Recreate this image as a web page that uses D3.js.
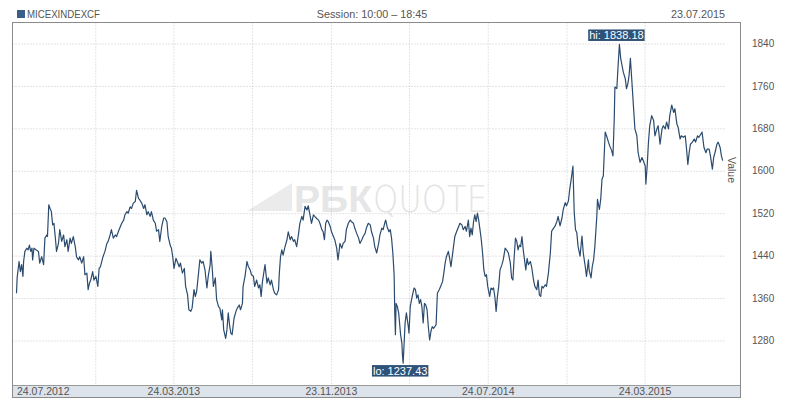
<!DOCTYPE html>
<html><head><meta charset="utf-8">
<script src="https://cdn.jsdelivr.net/npm/d3@7"></script>
<style>body{margin:0;background:#fff}svg{display:block;font-family:Arial,"Liberation Sans",sans-serif}</style>
</head><body><svg id="c" width="800" height="401"></svg>
<script>
const title = "MICEXINDEXCF";
const session = "Session: 10:00 – 18:45";
const asOf = "23.07.2015";
const axisTitle = "Value";
const startDate = "24.07.2012";
const endDate = "23.07.2015";
const yTicks = [1280, 1360, 1440, 1520, 1600, 1680, 1760, 1840];
const gridDates = ["23.11.2012","24.03.2013","24.07.2013","23.11.2013","24.03.2014","24.07.2014","23.11.2014","24.03.2015"];
const labelDates = ["24.07.2012","24.03.2013","23.11.2013","24.07.2014","24.03.2015"];
// [days since 24.07.2012, close]
const closes = [
[0,1369],[1,1398],[3,1419],[4,1429],[6,1410],[8,1423],[10,1401],[11,1429],[13,1448],[16,1454],[18,1451],[20,1460],[22,1448],[24,1454],[25,1432],[27,1454],[30,1451],[34,1448],[36,1426],[39,1438],[42,1423],[44,1473],[47,1479],[48,1476],[50,1536],[52,1529],[54,1523],[56,1498],[58,1501],[60,1476],[62,1448],[65,1463],[67,1489],[70,1467],[73,1479],[75,1457],[78,1470],[80,1448],[83,1473],[85,1463],[88,1476],[91,1457],[93,1438],[96,1432],[98,1438],[101,1426],[104,1438],[106,1404],[109,1407],[111,1376],[113,1388],[115,1394],[118,1410],[120,1394],[123,1401],[126,1382],[128,1416],[130,1419],[134,1438],[137,1448],[140,1463],[142,1467],[145,1479],[147,1489],[150,1473],[153,1479],[155,1476],[158,1486],[160,1492],[163,1501],[166,1507],[168,1517],[171,1523],[173,1520],[176,1532],[178,1529],[181,1539],[184,1542],[186,1563],[189,1548],[191,1545],[194,1539],[197,1529],[199,1536],[202,1517],[204,1523],[207,1514],[209,1523],[212,1507],[215,1501],[217,1486],[220,1489],[222,1467],[225,1495],[228,1511],[230,1511],[233,1504],[235,1476],[238,1460],[240,1454],[242,1438],[244,1416],[247,1435],[249,1429],[252,1419],[254,1426],[257,1407],[260,1416],[262,1382],[265,1366],[267,1338],[270,1335],[272,1341],[275,1376],[277,1363],[279,1372],[282,1407],
[284,1432],[287,1426],[289,1429],[292,1413],[295,1379],[297,1401],[300,1423],[301,1448],[303,1420],[305,1382],[308,1398],[310,1357],[313,1344],[315,1341],[318,1319],[319,1338],[321,1300],[324,1284],[326,1300],[328,1332],[330,1310],[332,1294],[334,1291],[337,1322],[340,1335],[342,1341],[345,1347],[347,1338],[350,1350],[351,1382],[354,1401],[357,1429],[359,1420],[362,1413],[364,1404],[367,1401],[369,1382],[372,1394],[375,1379],[377,1385],[379,1363],[381,1391],[383,1407],[385,1423],[388,1388],[390,1398],[393,1385],[395,1394],[398,1376],[400,1369],[403,1366],[406,1376],[407,1404],[409,1438],[411,1451],[413,1441],[416,1457],[419,1470],[421,1485],[424,1470],[426,1476],[429,1467],[431,1470],[434,1457],[437,1482],[439,1501],[442,1514],[444,1507],[447,1533],[450,1526],[452,1534],[455,1514],[457,1501],[460,1517],[462,1514],[465,1510],[468,1507],[470,1501],[473,1489],[475,1485],[477,1470],[479,1501],[481,1507],[483,1504],[486,1495],[488,1485],[491,1476],[493,1470],[496,1454],[498,1432],[500,1451],[501,1463],[504,1454],[506,1463],[509,1467],[511,1489],[514,1501],[517,1507],[519,1504],[522,1501],[524,1492],[527,1482],[530,1473],[532,1463],[535,1470],[537,1476],[540,1482],[542,1492],[545,1501],[548,1498],[550,1485],[553,1473],[555,1457],[558,1445],[561,1463],[563,1479],[566,1492],[568,1489],[571,1504],[572,1507],[574,1495],[577,1485],
[579,1489],[581,1473],[583,1445],[585,1404],[586,1332],[587,1291],[588,1350],[590,1344],[592,1332],[593,1319],[595,1291],[597,1275],[598,1250],[599,1237.43],[601,1288],[602,1313],[604,1332],[607,1306],[608,1294],[610,1344],[612,1357],[614,1369],[616,1379],[618,1376],[620,1360],[622,1366],[624,1350],[626,1357],[628,1344],[630,1313],[632,1350],[634,1347],[636,1338],[638,1306],[640,1281],[642,1297],[644,1306],[646,1303],[648,1306],[650,1310],[652,1369],[655,1376],[657,1382],[660,1391],[662,1407],[664,1426],[666,1438],[669,1448],[671,1435],[673,1419],[675,1438],[677,1457],[679,1476],[682,1486],[684,1492],[687,1501],[690,1498],[692,1489],[695,1495],[697,1486],[700,1507],[702,1476],[704,1492],[706,1479],[708,1504],[710,1517],[712,1504],[714,1520],[716,1507],[718,1489],[720,1470],[722,1445],[724,1413],[726,1401],[728,1404],[730,1382],[733,1363],[735,1379],[737,1376],[739,1379],[741,1363],[743,1335],[745,1363],[747,1382],[749,1413],[752,1423],[754,1432],[757,1454],[759,1451],[762,1445],[765,1426],[767,1398],[769,1394],[771,1438],[773,1473],[775,1467],[777,1451],[779,1460],[781,1457],[783,1476],[785,1451],[787,1432],[789,1413],[791,1435],[793,1423],[796,1429],[798,1419],[801,1394],[803,1382],[806,1376],[808,1394],[810,1366],[812,1363],[814,1382],[816,1379],[819,1385],[821,1382],[824,1407],[827,1445],[829,1486],[832,1492],[834,1495],[837,1504],[839,1514],
[842,1496],[845,1511],[847,1527],[850,1540],[852,1534],[855,1543],[857,1565],[860,1590],[862,1609],[864,1521],[866,1489],[868,1483],[870,1457],[873,1439],[876,1477],[878,1445],[881,1420],[883,1401],[886,1432],[887,1413],[890,1398],[892,1420],[894,1432],[896,1458],[899,1515],[900,1546],[903,1527],[905,1546],[907,1584],[909,1590],[912,1673],[914,1666],[917,1654],[919,1647],[922,1638],[924,1628],[926,1698],[927,1758],[930,1755],[932,1799],[934,1838.18],[936,1812],[938,1799],[940,1786],[943,1774],[945,1755],[947,1764],[949,1780],[951,1812],[954,1755],[956,1717],[958,1679],[961,1666],[963,1634],[966,1616],[969,1625],[971,1619],[974,1609],[975,1575],[977,1609],[979,1654],[981,1685],[984,1704],[987,1695],[989,1666],[992,1679],[994,1685],[997,1650],[1000,1679],[1002,1685],[1005,1679],[1007,1692],[1010,1679],[1012,1704],[1015,1724],[1018,1710],[1020,1717],[1023,1688],[1025,1682],[1028,1660],[1030,1666],[1033,1663],[1036,1666],[1038,1641],[1040,1612],[1042,1634],[1044,1650],[1047,1654],[1050,1660],[1052,1654],[1055,1666],[1057,1663],[1060,1669],[1062,1673],[1065,1644],[1068,1634],[1070,1641],[1073,1641],[1075,1628],[1078,1603],[1080,1625],[1082,1634],[1085,1650],[1087,1654],[1090,1644],[1092,1628],[1094,1619]
];

const parse = d3.timeParse("%d.%m.%Y");
const fmt = d3.timeFormat("%d.%m.%Y");
const t0 = parse(startDate);
const data = closes.map(([d, v]) => ({date: d3.timeDay.offset(t0, d), value: v}));

const svg = d3.select("#c");
const L = 12.5, R = 740.5, T = 22.5, B = 397.5, bandTop = 385.5, gridRight = 725;
const x = d3.scaleTime().domain([t0, parse(endDate)]).range([16.5, 722.7]);
const y = d3.scaleLinear().domain([1280, 1840]).range([340.5, 43.5]);

// header
svg.append("rect").attr("x", 17).attr("y", 10).attr("width", 8).attr("height", 8).attr("fill", "#3a5e87");
svg.append("text").attr("x", 27).attr("y", 18).attr("font-size", 11).attr("fill", "#555")
  .attr("textLength", 73).attr("lengthAdjust", "spacingAndGlyphs").text(title);
svg.append("text").attr("x", 372).attr("y", 18).attr("font-size", 10.8).attr("fill", "#555")
  .attr("text-anchor", "middle").text(session);
svg.append("text").attr("x", 725).attr("y", 18).attr("font-size", 10.8).attr("fill", "#555")
  .attr("text-anchor", "end").text(asOf);

// watermark
const wm = svg.append("g");
wm.append("polygon").attr("points", "247,211 292,183 292,211").attr("fill", "#ebebeb");
wm.append("text").attr("x", 294).attr("y", 212).attr("font-size", 37).attr("font-weight", "bold").attr("fill", "#e6e6e6")
  .attr("textLength", 78).attr("lengthAdjust", "spacingAndGlyphs").text("РБК");
wm.append("text").attr("x", 373).attr("y", 212).attr("font-size", 37).attr("font-family", "'DejaVu Sans ExtraLight','DejaVu Sans',sans-serif").attr("font-weight", 200).attr("fill", "#e4e4e4")
  .attr("textLength", 114).attr("lengthAdjust", "spacingAndGlyphs").text("QUOTE");

// horizontal grid
svg.append("g").attr("transform", `translate(${L},0)`)
  .call(d3.axisLeft(y).tickValues(yTicks).tickSize(-(gridRight - L)).tickFormat(""))
  .call(g => g.select(".domain").remove())
  .call(g => g.selectAll("line").attr("stroke", "#c8c8c8").attr("stroke-dasharray", "1,2"));

// vertical grid
svg.append("g").attr("transform", `translate(0,${T})`)
  .call(d3.axisTop(x).tickValues(gridDates.map(parse)).tickSize(-(bandTop - T)).tickFormat(""))
  .call(g => g.select(".domain").remove())
  .call(g => g.selectAll("line").attr("stroke", "#c8c8c8").attr("stroke-dasharray", "1,2"));

// line
svg.append("path").datum(data)
  .attr("fill", "none").attr("stroke", "#2b4b6e").attr("stroke-width", 1.2).attr("stroke-linejoin", "round")
  .attr("d", d3.line().x(d => x(d.date)).y(d => y(d.value)));

// frame & band
svg.append("rect").attr("x", L).attr("y", bandTop).attr("width", R - L).attr("height", B - bandTop)
  .attr("fill", "#dce3eb").attr("stroke", "#9a9a9a");
svg.append("rect").attr("x", L).attr("y", T).attr("width", R - L).attr("height", B - T)
  .attr("fill", "none").attr("stroke", "#8a8a8a");

// bottom labels
svg.append("g").attr("transform", `translate(0,${bandTop})`)
  .call(d3.axisBottom(x).tickValues(labelDates.map(parse)).tickSize(0).tickPadding(0).tickFormat(fmt))
  .call(g => g.select(".domain").remove())
  .call(g => g.selectAll("text").attr("font-size", 10.5).attr("fill", "#555").attr("font-family", "Arial,'Liberation Sans',sans-serif").attr("dy", "0.95em"))
  .call(g => g.selectAll("text").filter((d, i) => i === 0).attr("text-anchor", "start").attr("x", 0));

// right axis
svg.append("g").attr("transform", `translate(748,0)`)
  .call(d3.axisRight(y).tickValues(yTicks).tickSize(0).tickPadding(4).tickFormat(d3.format("d")))
  .call(g => g.select(".domain").remove())
  .call(g => g.selectAll("text").attr("font-size", 10).attr("fill", "#555").attr("font-family", "Arial,'Liberation Sans',sans-serif"));

svg.append("text").attr("transform", "translate(728,170) rotate(90)").attr("text-anchor", "middle")
  .attr("font-size", 10.5).attr("fill", "#555").text(axisTitle);

// hi / lo labels
const hi = data.reduce((a, b) => b.value > a.value ? b : a);
const lo = data.reduce((a, b) => b.value < a.value ? b : a);
function tag(d, txt, above) {
  const g = svg.append("g");
  const t = g.append("text").attr("font-size", 11).attr("fill", "#fff").attr("text-anchor", "middle").text(txt);
  const w = t.node().getComputedTextLength() + 2;
  const cx = x(d.date) - 3;
  const top = above ? y(d.value) - 15 : y(d.value) + 2;
  g.insert("rect", "text").attr("x", cx - w / 2).attr("y", top).attr("width", w).attr("height", 11.5).attr("fill", "#2f5279");
  t.attr("x", cx).attr("y", top + 10);
}
tag(hi, "hi: " + hi.value.toFixed(2), true);
tag(lo, "lo: " + lo.value.toFixed(2), false);
</script></body></html>
